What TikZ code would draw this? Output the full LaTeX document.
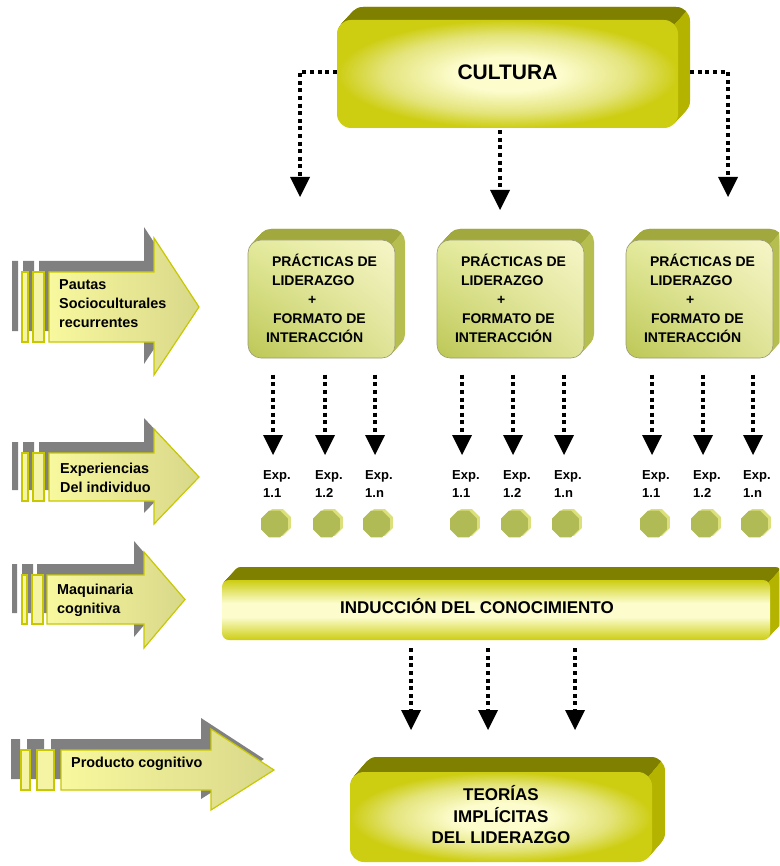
\documentclass[tikz,border=0pt]{standalone}
\usepackage{fontspec}
\setmainfont{Liberation Sans}
\usetikzlibrary{arrows.meta,shapes.geometric,shadings}

\definecolor{oliveTop}{HTML}{7F7F00}
\definecolor{oliveSide}{HTML}{B4B400}
\definecolor{glowEdge}{HTML}{CDCD12}
\definecolor{glowMid}{HTML}{E4E47C}
\definecolor{glowCore}{HTML}{FCFCCC}
\definecolor{pracTop}{HTML}{A0A83E}
\definecolor{pracSide}{HTML}{B6BE50}
\definecolor{pracUL}{HTML}{E4EA9C}
\definecolor{pracUR}{HTML}{F6F6C8}
\definecolor{pracLL}{HTML}{BCC755}
\definecolor{pracLR}{HTML}{DEE396}
\definecolor{pracEdge}{HTML}{9A9A78}
\definecolor{octFront}{HTML}{B1BB55}
\definecolor{octSide}{HTML}{DCE07A}
\definecolor{shadowGrey}{HTML}{808080}
\definecolor{pointerEdge}{HTML}{C8C800}
\definecolor{pointerLight}{HTML}{F8F89E}
\definecolor{pointerDark}{HTML}{D8D88A}
\definecolor{barFill}{HTML}{F4F4A4}

% radial glow for the big olive boxes, horizontal light band for the wide one
\pgfdeclareradialshading{glow}{\pgfpoint{0bp}{0bp}}{color(0bp)=(glowCore); color(8bp)=(glowCore); color(18bp)=(glowMid); color(25bp)=(glowEdge); color(50bp)=(glowEdge)}
\pgfdeclareverticalshading{band}{100bp}{color(0bp)=(glowEdge); color(25bp)=(glowEdge); color(44bp)=(glowCore); color(56bp)=(glowCore); color(75bp)=(glowEdge); color(100bp)=(glowEdge)}

% extruded rounded block: #1 x1, #2 y1, #3 x2, #4 y2 (front face), #5 dx, #6 dy (depth),
% #7 corner radius, #8 top colour, #9 side colour
\newcommand\solidbox[9]{%
  \foreach \k in {1,...,16}{%
    \fill[#9,rounded corners=#7pt] ({#1+#5*\k/16},{#2-#6*\k/16}) rectangle ({#3+#5*\k/16},{#4-#6*\k/16});
  }%
  \begin{scope}
    \clip ({#3-0.29*#7-#5},{#2+0.29*#7+#6}) -- ({#3-0.29*#7+2*#5},{#2+0.29*#7-2*#6})
      -- ({#1-60},{#2+0.29*#7-2*#6}) -- ({#1-60},{#2+0.29*#7+#6}) -- cycle;
    \foreach \k in {1,...,16}{%
      \fill[#8,rounded corners=#7pt] ({#1+#5*\k/16},{#2-#6*\k/16}) rectangle ({#3+#5*\k/16},{#4-#6*\k/16});
    }%
  \end{scope}
}

% block arrow pieces on the left margin
\newcommand\pointerbars[7]{\path[#7] (#1,#5) rectangle (#2,#6) (#3,#5) rectangle (#4,#6);}
\newcommand\pointerbody[8]{\path[#8] (#1,#2) -- (#4,#2) -- (#4,#5) -- (#7,{(#2+#3)/2}) -- (#4,#6) -- (#4,#3) -- (#1,#3) -- cycle;}

\begin{document}
\begin{tikzpicture}[x=1pt,y=-1pt,
  dotarr/.style={line width=4pt, dash pattern=on 4pt off 3.6pt,
    -{Triangle[width=20pt,length=20pt,line width=0pt]}},
  shadowpart/.style={fill=shadowGrey, shift={(-10,-11)}},
  barpart/.style={fill=barFill, draw=pointerEdge, line width=1.2pt},
  bodypart/.style={shade, left color=pointerLight, right color=pointerDark, draw=pointerEdge, line width=1.2pt},
  pointertxt/.style={font=\bfseries\fontsize{14.4}{19}\selectfont, align=left, inner sep=0pt},
  prtxt/.style={font=\bfseries\fontsize{14}{19}\selectfont, align=left, inner sep=0pt,
    minimum width=147pt, minimum height=118pt},
  explbl/.style={font=\bfseries\fontsize{13}{18}\selectfont, align=left, inner sep=0pt},
  octside/.style={regular polygon, regular polygon sides=8, minimum size=29pt, inner sep=0pt, fill=octSide},
  octfront/.style={regular polygon, regular polygon sides=8, minimum size=29pt, inner sep=0pt, fill=octFront},
]
\fill[white] (0,0) rectangle (779,866);
\clip (0,0) rectangle (779,866);

% ---------- left block arrows ----------
% Pautas socioculturales
\pointerbody{49}{272}{342}{154}{238}{375}{199}{shadowpart}
\pointerbars{22}{28}{33}{44}{272}{342}{shadowpart}
\pointerbars{22}{28}{33}{44}{272}{342}{barpart}
\pointerbody{49}{272}{342}{154}{238}{375}{199}{bodypart}
% Experiencias
\pointerbody{49}{453}{501}{154}{429}{524}{199}{shadowpart}
\pointerbars{22}{28}{33}{44}{453}{501}{shadowpart}
\pointerbars{22}{28}{33}{44}{453}{501}{barpart}
\pointerbody{49}{453}{501}{154}{429}{524}{199}{bodypart}
% Maquinaria
\pointerbody{47}{575}{624}{144}{552}{648}{185}{shadowpart}
\pointerbars{22}{27}{32}{43}{575}{624}{shadowpart}
\pointerbars{22}{27}{32}{43}{575}{624}{barpart}
\pointerbody{47}{575}{624}{144}{552}{648}{185}{bodypart}
% Producto
\pointerbody{61}{750}{790}{211}{729}{810}{274}{shadowpart}
\pointerbars{21}{30}{37}{54}{750}{790}{shadowpart}
\pointerbars{21}{30}{37}{54}{750}{790}{barpart}
\pointerbody{61}{750}{790}{211}{729}{810}{274}{bodypart}

\node[pointertxt, anchor=west] (pautas) at (59,304) {Pautas\\Socioculturales\\recurrentes};
\node[pointertxt, anchor=west] (experiencias) at (60,477.5) {Experiencias\\Del individuo};
\node[pointertxt, anchor=west] (maquinaria) at (57,600.5) {Maquinaria\\cognitiva};
\node[pointertxt, anchor=west] (producto) at (71,764) {Producto cognitivo};

% ---------- CULTURA ----------
\solidbox{337}{20}{678}{128}{12}{13}{14}{oliveTop}{oliveSide}
\shade[shading=glow, rounded corners=14pt] (337,20) rectangle (678,128);
\node[font=\bfseries\fontsize{21}{24}\selectfont, inner sep=0pt,
  minimum width=341pt, minimum height=108pt] (cultura) at (507.5,72) {CULTURA};

% ---------- practice blocks ----------
\foreach \bx/\nm in {248/p1, 437/p2, 626/p3}{
  \solidbox{\bx}{240}{\bx+147}{358}{10}{11}{13}{pracTop}{pracSide}
  \shadedraw[upper left=pracUL, upper right=pracUR, lower left=pracLL, lower right=pracLR,
    draw=pracEdge, line width=0.6pt, rounded corners=13pt] (\bx,240) rectangle (\bx+147,358);
  \node[prtxt] (\nm) at (\bx+73.5,298.5)
    {\hspace*{6pt}PRÁCTICAS DE\\\hspace*{6pt}LIDERAZGO\\\hspace*{42pt}+\\\hspace*{7pt}FORMATO DE\\INTERACCIÓN};
}

% ---------- induction bar ----------
\solidbox{222}{580}{770}{640}{12}{13}{7}{oliveTop}{oliveSide}
\shade[shading=band, rounded corners=7pt] (222,580) rectangle (770,640);
\node[font=\bfseries\fontsize{17}{20}\selectfont, inner sep=0pt, minimum height=60pt]
  (ind) at (477,606) {INDUCCIÓN DEL CONOCIMIENTO};

% ---------- implicit theories ----------
\solidbox{350}{772}{652}{862}{13}{15}{14}{oliveTop}{oliveSide}
\shade[shading=glow, rounded corners=14pt] (350,772) rectangle (652,862);
\node[font=\bfseries\fontsize{17}{21.5}\selectfont, align=center, inner sep=0pt,
  minimum width=302pt, minimum height=90pt] (teo) at (501,815)
  {TEORÍAS\\IMPLÍCITAS\\DEL LIDERAZGO};

% ---------- culture to practices ----------
\coordinate (tL) at (300,197);
\coordinate (tM) at (500,210);
\coordinate (tR) at (728,197);
\draw[dotarr] (cultura.west) -| (tL);
\draw[dotarr, shorten <=4pt] (cultura.south -| tM) -- (tM);
\draw[dotarr, shorten <=12pt] (cultura.east) -| (tR);

% ---------- practices to individual experiences ----------
\foreach \x/\b/\n/\lab in {273/p1/a/1.1, 325/p1/b/1.2, 375/p1/c/1.n,
                           462/p2/a/1.1, 513/p2/b/1.2, 564/p2/c/1.n,
                           652/p3/a/1.1, 703/p3/b/1.2, 753/p3/c/1.n}{
  \coordinate (t\b\n) at (\x,455);
  \draw[dotarr, shorten <=17pt] (\b.south -| t\b\n) -- (t\b\n);
  \node[explbl, anchor=west] (e\b\n) at (\x-10,484) {Exp.\\\lab};
  \node[octside] at (\x+4.5,522.5) {};
  \node[octfront] (o\b\n) at (\x+1.5,524) {};
}

% ---------- induction to theories ----------
\coordinate (u1) at (411,730);
\coordinate (u2) at (488,730);
\coordinate (u3) at (575,730);
\foreach \u in {u1,u2,u3}{
  \draw[dotarr, shorten <=12pt] (ind.south -| \u) -- (\u);
}
\end{tikzpicture}
\end{document}
